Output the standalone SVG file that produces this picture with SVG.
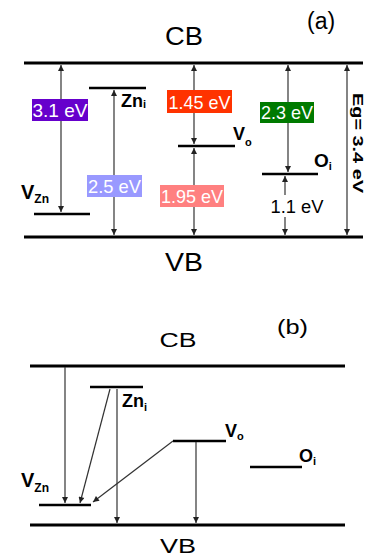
<svg xmlns="http://www.w3.org/2000/svg" width="366" height="558" viewBox="0 0 366 558">
<defs>
<style>
.band{stroke:#000;stroke-width:3;fill:none}
.lvl{stroke:#000;stroke-width:2.5;fill:none}
.arr{stroke:#333;stroke-width:1.2;fill:none}
.t{font-family:"Liberation Sans",Arial,sans-serif;fill:#000}
.lab{font-family:"Liberation Sans",Arial,sans-serif;font-weight:bold;fill:#000}
.bx{font-family:"Liberation Sans",Arial,sans-serif;fill:#fff;font-size:19px;text-anchor:middle}
</style>
<marker id="ah" viewBox="0 0 10 10" refX="10" refY="5" markerWidth="7" markerHeight="6" markerUnits="userSpaceOnUse" orient="auto-start-reverse">
<path d="M0,0 L10,5 L0,10 z" fill="#222"/>
</marker>
</defs>
<rect width="366" height="558" fill="#fff"/>

<!-- Panel (a) -->
<g id="a-title">
<text class="t" x="184" y="45" font-size="25" text-anchor="middle" textLength="38" lengthAdjust="spacingAndGlyphs">CB</text>
<text class="t" x="307" y="29" font-size="23">(a)</text>
<text class="t" x="184" y="271" font-size="25" text-anchor="middle" textLength="38" lengthAdjust="spacingAndGlyphs">VB</text>
</g>
<g id="a-CB"><line class="band" x1="24" y1="63" x2="363" y2="63"/></g>
<g id="a-VB"><line class="band" x1="24" y1="237" x2="363" y2="237"/></g>
<g id="a-VZn"><line class="lvl" x1="34" y1="214" x2="90" y2="214"/>
<text class="lab" x="21" y="199" font-size="20">V<tspan font-size="12" dy="4">Zn</tspan></text></g>
<g id="a-Zni"><line class="lvl" x1="89" y1="88" x2="146" y2="88"/>
<text class="lab" x="121" y="107" font-size="18">Zn<tspan font-size="11" dy="1">i</tspan></text></g>
<g id="a-Vo"><line class="lvl" x1="178" y1="146" x2="235" y2="146"/>
<text class="lab" x="233" y="140" font-size="18">V<tspan font-size="11" dy="6">o</tspan></text></g>
<g id="a-Oi"><line class="lvl" x1="262" y1="174" x2="318" y2="174"/>
<text class="lab" x="314" y="167" font-size="19">O<tspan font-size="11" dy="3">i</tspan></text></g>

<g id="a-connectors">
<path class="arr" d="M61,65 L61,212" marker-start="url(#ah)" marker-end="url(#ah)"/>
<path class="arr" d="M114,90 L114,235" marker-start="url(#ah)" marker-end="url(#ah)"/>
<path class="arr" d="M194,65 L194,144" marker-start="url(#ah)" marker-end="url(#ah)"/>
<path class="arr" d="M194,148 L194,235" marker-start="url(#ah)" marker-end="url(#ah)"/>
<path class="arr" d="M288,65 L288,172" marker-start="url(#ah)" marker-end="url(#ah)"/>
<path class="arr" d="M285,176 L285,195" marker-start="url(#ah)"/>
<path class="arr" d="M285,217 L285,235" marker-end="url(#ah)"/>
<path class="arr" d="M347,65 L347,235" marker-start="url(#ah)" marker-end="url(#ah)"/>
</g>

<g id="a-labels">
<rect x="32" y="99" width="56" height="22" fill="#6600cc"/>
<text class="bx" x="60" y="117" textLength="55" lengthAdjust="spacingAndGlyphs">3.1 eV</text>
<rect x="87" y="175" width="55" height="22" fill="#9999ff"/>
<text class="bx" x="114.5" y="193" textLength="53" lengthAdjust="spacingAndGlyphs">2.5 eV</text>
<rect x="167" y="90" width="65" height="23" fill="#ff3300"/>
<text class="bx" x="199.5" y="109" textLength="62" lengthAdjust="spacingAndGlyphs">1.45 eV</text>
<rect x="160" y="185" width="64" height="22" fill="#ff8080"/>
<text class="bx" x="192" y="203" textLength="62" lengthAdjust="spacingAndGlyphs">1.95 eV</text>
<rect x="260" y="102" width="54" height="21" fill="#007a00"/>
<text class="bx" x="287" y="119" textLength="52" lengthAdjust="spacingAndGlyphs">2.3 eV</text>
<text class="t" x="297" y="213" font-size="18" text-anchor="middle" textLength="53" lengthAdjust="spacingAndGlyphs">1.1 eV</text>
<text class="lab" transform="translate(353,143) rotate(90)" font-size="14" text-anchor="middle" textLength="100" lengthAdjust="spacingAndGlyphs">Eg= 3.4 eV</text>
</g>

<!-- Panel (b) -->
<g id="b-title">
<text class="t" x="178" y="347" font-size="20" text-anchor="middle" textLength="37" lengthAdjust="spacingAndGlyphs">CB</text>
<text class="t" x="277" y="334" font-size="20" textLength="31" lengthAdjust="spacingAndGlyphs">(b)</text>
<text class="t" x="178" y="553" font-size="21" text-anchor="middle" textLength="36" lengthAdjust="spacingAndGlyphs">VB</text>
</g>
<g id="b-CB"><line class="band" x1="30" y1="366" x2="345" y2="366"/></g>
<g id="b-VB"><line class="band" x1="30" y1="525" x2="345" y2="525"/></g>
<g id="b-VZn"><line class="lvl" x1="39" y1="505" x2="91" y2="505"/>
<text class="lab" x="21" y="487" font-size="20">V<tspan font-size="12" dy="5">Zn</tspan></text></g>
<g id="b-Zni"><line class="lvl" x1="90" y1="387" x2="143" y2="387"/>
<text class="lab" x="122" y="407" font-size="18">Zn<tspan font-size="11" dy="4">i</tspan></text></g>
<g id="b-Vo"><line class="lvl" x1="173" y1="441" x2="226" y2="441"/>
<text class="lab" x="225" y="437" font-size="18">V<tspan font-size="11" dy="3">o</tspan></text></g>
<g id="b-Oi"><line class="lvl" x1="250" y1="467" x2="302" y2="467"/>
<text class="lab" x="299" y="462" font-size="18">O<tspan font-size="11" dy="3">i</tspan></text></g>

<g id="b-connectors">
<path class="arr" d="M65,367 L65,503" marker-end="url(#ah)"/>
<path class="arr" d="M110,389 L80,503" marker-end="url(#ah)"/>
<path class="arr" d="M117,389 L117,523" marker-end="url(#ah)"/>
<path class="arr" d="M173,441 L93,502" marker-end="url(#ah)"/>
<path class="arr" d="M196,442 L196,523" marker-end="url(#ah)"/>
</g>
</svg>
